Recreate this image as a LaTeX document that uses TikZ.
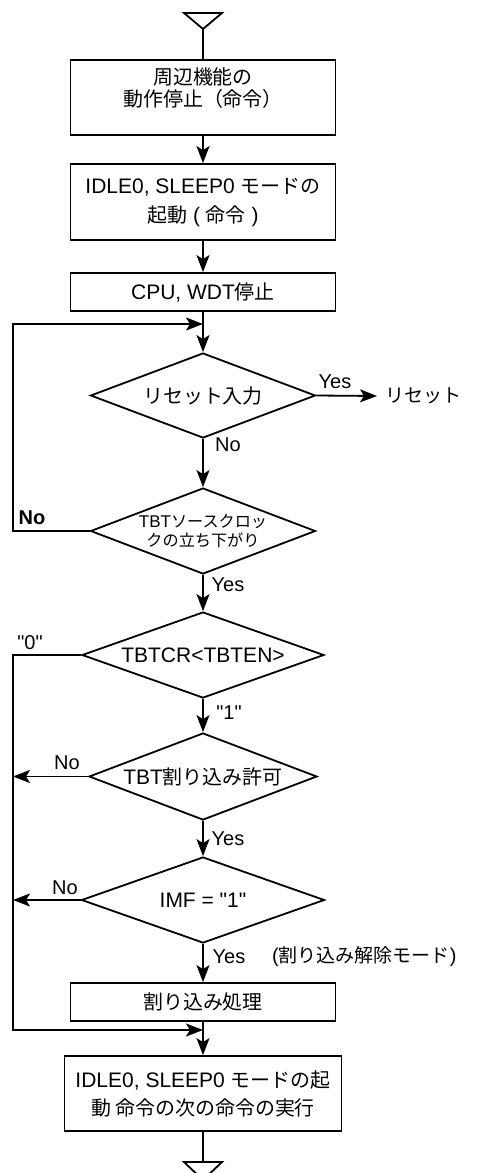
\documentclass[tikz,border=0pt]{standalone}
\usepackage{fontspec}
\setmainfont{Liberation Sans}
\newfontfamily\jp{Noto Sans CJK JP}[Scale=0.95]
\usetikzlibrary{arrows.meta}
\usetikzlibrary{shapes.geometric}

\tikzset{
  box/.style={draw, line width=1.8pt, minimum width=265pt, inner sep=0pt, align=center, font=\fontsize{21}{25}\selectfont},
  dia/.style={draw, diamond, aspect=2.6, line width=1.8pt, inner sep=0pt, align=center, font=\fontsize{21}{25}\selectfont},
  lbl/.style={inner sep=0pt, font=\fontsize{20}{24}\selectfont},
  flow/.style={line width=1.8pt, -{Stealth[length=17pt,width=13pt,inset=4pt]}},
  line/.style={line width=1.8pt}
}

\begin{document}
\begin{tikzpicture}[x=1pt,y=1pt,yscale=-1,xscale=1]
\useasboundingbox (0,0) rectangle (480,1173);

%Shape: Triangle
\coordinate (top) at (203,29);
\draw[line] (184,13) -- (222,13) -- (top) -- cycle ;

%Shape: Rectangle
\node[box, minimum height=75pt] (box1) at (203,97.5) {{\jp 周辺機能の}\\[-3pt]{\jp 動作停止（命令）}\\[-12pt]\strut};
%Shape: Rectangle
\node[box, minimum height=76pt] (box2) at (203,202) {IDLE0, SLEEP0 {\jp モードの}\\[4pt]{\jp 起動} ( {\jp 命令} )};
%Shape: Rectangle
\node[box, minimum height=38pt] (box3) at (203,292) {CPU, WDT{\jp 停止}};

%Shape: Diamond
\node[dia, minimum width=225pt, minimum height=85pt] (d1) at (203,395.5) {{\jp リセット入力}};
%Shape: Diamond
\node[dia, minimum width=225pt, minimum height=86pt, font=\fontsize{17}{19}\selectfont] (d2) at (203,531) {\makebox[0pt]{TBT{\jp ソースクロッ}}\\\makebox[0pt]{\jp クの立ち下がり}};
%Shape: Diamond
\node[dia, minimum width=242pt, minimum height=86pt] (d3) at (203,655) {TBTCR<TBTEN>};
%Shape: Diamond
\node[dia, minimum width=228pt, minimum height=87pt] (d4) at (203,776.5) {TBT{\jp 割り込み許可}};
%Shape: Diamond
\node[dia, minimum width=243pt, minimum height=86pt] (d5) at (203,900) {IMF = \textquotedbl 1\textquotedbl};

%Shape: Rectangle
\node[box, minimum height=38pt] (box4) at (203,1002) {{\jp 割り込み処理}};
%Shape: Rectangle
\node[box, minimum width=277pt, minimum height=75pt] (box5) at (203,1093.5) {IDLE0, SLEEP0 {\jp モードの起}\\[3pt]{\jp 動 命令の次の命令の実行}};

%Shape: Triangle
\coordinate (bot) at (203,1162);
\draw[line] (184,1162) -- (222,1162) -- (203,1180) -- cycle ;

% Text Node
\node[lbl, inner xsep=8pt, anchor=west, font=\fontsize{20}{24}\jp] (rst) at (377,396) {リセット};

\coordinate (m1) at (203,324);
\coordinate (c1) at (13,324);
\coordinate (m2) at (203,1030);
\coordinate (c2) at (13,1030);

%Straight Lines
\draw[line] (top) -- (box1);
\draw[flow] (box1) -- (box2);
\draw[flow] (box2) -- (box3);
\draw[flow] (box3) -- (d1);
\draw[flow] (d1.east) -- (rst.west);
\draw[flow] (d1) -- (d2);
\draw[flow] (d2.west) -| (c1) -- (m1);
\draw[flow] (d2) -- (d3);
\draw[flow] (d3) -- (d4);
\draw[flow] (d3.west) -| (c2) -- (m2);
\draw[flow] (d4.west) -- (d4.west -| c2);
\draw[flow] (d4) -- (d5);
\draw[flow] (d5.west) -- (d5.west -| c2);
\draw[flow] (d5) -- (box4);
\draw[flow] (box4) -- (box5);
\draw[line] (box5) -- (bot);

% Text Node
\node[lbl] (yes1) at (335,382) {Yes};
% Text Node
\node[lbl] (no1) at (228,445) {No};
% Text Node
\node[lbl, font=\fontsize{20}{24}\bfseries] (no2) at (32,518) {No};
% Text Node
\node[lbl] (yes2) at (228,585) {Yes};
% Text Node
\node[lbl] (zero) at (30,643) {\textquotedbl 0\textquotedbl};
% Text Node
\node[lbl] (one) at (229,713) {\textquotedbl 1\textquotedbl};
% Text Node
\node[lbl] (no4) at (67,763) {No};
% Text Node
\node[lbl] (yes4) at (228,839) {Yes};
% Text Node
\node[lbl] (no5) at (65,888) {No};
% Text Node
\node[lbl] (yes5) at (229,957) {Yes};
% Text Node
\node[lbl, anchor=west] (mode) at (272,957) {({\jp 割り込み解除モード})};

\end{tikzpicture}
\end{document}
